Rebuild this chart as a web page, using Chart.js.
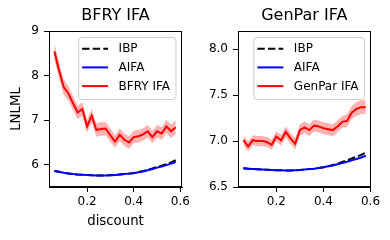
<!DOCTYPE html>
<html><head><meta charset="utf-8">
<script src="https://cdn.jsdelivr.net/npm/chart.js@4"></script>
<style>
html,body{margin:0;padding:0;background:#fff;width:390px;height:240px;overflow:hidden}
canvas{position:absolute;top:0}
#c1{left:0} #c2{left:195px}
</style></head>
<body>
<canvas id="c1" width="195" height="240"></canvas>
<canvas id="c2" width="195" height="240"></canvas>
<script>
const discount = [0.06,0.08,0.10,0.12,0.14,0.16,0.18,0.20,0.22,0.24,0.26,0.28,0.30,0.32,0.34,0.36,0.38,0.40,0.42,0.44,0.46,0.48,0.50,0.52,0.54,0.56,0.58];

const bfryMean = [8.54,8.12,7.74,7.60,7.38,7.17,7.25,6.86,7.10,6.78,6.80,6.81,6.66,6.52,6.67,6.56,6.50,6.62,6.64,6.68,6.75,6.62,6.75,6.70,6.86,6.75,6.84];
const bfryStd  = [0.19,0.18,0.17,0.16,0.16,0.15,0.15,0.15,0.15,0.15,0.15,0.15,0.15,0.14,0.14,0.14,0.14,0.14,0.14,0.14,0.14,0.14,0.14,0.14,0.15,0.15,0.15];
const aifaLeft = [5.86,5.84,5.82,5.805,5.79,5.78,5.775,5.77,5.765,5.76,5.76,5.76,5.765,5.77,5.78,5.79,5.80,5.81,5.83,5.85,5.875,5.905,5.935,5.96,5.99,6.025,6.06];
const ibpLeft  = [5.86,5.84,5.82,5.805,5.79,5.78,5.775,5.77,5.765,5.76,5.76,5.76,5.765,5.77,5.78,5.79,5.80,5.815,5.835,5.86,5.885,5.915,5.95,5.98,6.01,6.05,6.10];

const genparMean = [7.01,6.94,7.01,7.00,7.00,6.99,6.96,7.05,7.01,7.10,7.03,6.97,7.12,7.15,7.12,7.17,7.16,7.14,7.13,7.12,7.16,7.21,7.22,7.31,7.35,7.37,7.37];
const genparStd  = [0.055,0.055,0.055,0.055,0.055,0.055,0.055,0.055,0.06,0.06,0.06,0.06,0.065,0.065,0.065,0.065,0.065,0.065,0.065,0.065,0.065,0.065,0.07,0.07,0.075,0.075,0.075];
const aifaRight  = [6.705,6.70,6.697,6.693,6.69,6.687,6.685,6.683,6.682,6.681,6.681,6.683,6.686,6.69,6.695,6.70,6.707,6.715,6.725,6.735,6.748,6.762,6.775,6.79,6.805,6.822,6.84];
const ibpRight   = [6.705,6.70,6.697,6.693,6.69,6.687,6.685,6.683,6.682,6.681,6.681,6.683,6.686,6.69,6.695,6.70,6.707,6.716,6.727,6.74,6.755,6.772,6.79,6.81,6.83,6.85,6.875];

const yTicksLeft  = [6,7,8,9];
const yTicksRight = [6.5,7.0,7.5,8.0];
const xTicks      = [0.2,0.4,0.6];

const FONT = "'DejaVu Sans', sans-serif";

function pts(ys){ return discount.map((x,i)=>({x:x, y:ys[i]})); }
function bandPts(m,s,sign){ return discount.map((x,i)=>({x:x, y:m[i]+sign*s[i]})); }

const framePlugin = {
  id:'frame',
  afterDraw(chart){
    const {ctx, chartArea:a} = chart;
    ctx.save();
    ctx.strokeStyle='#000'; ctx.lineWidth=1;
    ctx.strokeRect(Math.round(a.left)+0.5, Math.round(a.top)+0.5, Math.round(a.right)-Math.round(a.left)-1, Math.round(a.bottom)-Math.round(a.top)-1);
    ctx.restore();
  }
};

const legendPlugin = {
  id:'boxLegend',
  afterDraw(chart, args, opts){
    const {ctx, chartArea:a} = chart;
    const items = opts.items;
    ctx.save();
    ctx.font = '12px ' + FONT;
    let maxW = 0;
    items.forEach(it=>{ maxW = Math.max(maxW, ctx.measureText(it.label).width); });
    const w = 4 + 26 + 10.5 + maxW + 5.5;
    const h = 62;
    const right = a.right - 6.5, top = a.top + 6;
    const left = right - w;
    ctx.beginPath();
    ctx.roundRect(left+0.5, top+0.5, w, h, 3);
    ctx.fillStyle='rgba(255,255,255,0.8)'; ctx.fill();
    ctx.strokeStyle='#cccccc'; ctx.lineWidth=1; ctx.stroke();
    items.forEach((it,i)=>{
      const y = top + 11.7 + i*18.7;
      ctx.beginPath();
      ctx.setLineDash(it.dash || []);
      ctx.strokeStyle = it.color; ctx.lineWidth = 2;
      ctx.moveTo(left+4, y); ctx.lineTo(left+30, y); ctx.stroke();
      ctx.setLineDash([]);
      ctx.fillStyle='#000'; ctx.textBaseline='middle'; ctx.textAlign='left';
      ctx.fillText(it.label, left+40.5, y+0.5);
    });
    ctx.restore();
  }
};

function makeChart(id, o){
  const datasets = [
    {label:o.redLabel, data:pts(o.mean), borderColor:'#ff0000', borderWidth:2, pointRadius:0, fill:false, order:0},
    {label:'upper', data:bandPts(o.mean,o.std,1), borderWidth:0, borderColor:'rgba(0,0,0,0)', backgroundColor:'rgba(255,0,0,0.3)', pointRadius:0, fill:'+1', order:1},
    {label:'lower', data:bandPts(o.mean,o.std,-1), borderWidth:0, borderColor:'rgba(0,0,0,0)', pointRadius:0, fill:false, order:2},
    {label:'AIFA', data:pts(o.aifa), borderColor:'#0000ff', borderWidth:2, pointRadius:0, fill:false, order:3},
    {label:'IBP', data:pts(o.ibp), borderColor:'#000000', borderWidth:2, borderDash:[7.4,3.2], pointRadius:0, fill:false, order:4}
  ];
  return new Chart(document.getElementById(id), {
    type:'line',
    data:{datasets},
    plugins:[framePlugin, legendPlugin],
    options:{
      responsive:false, animation:false, devicePixelRatio:1,
      layout:{padding:{left:0,right:o.padRight,top:0,bottom:0}},
      plugins:{
        legend:{display:false}, tooltip:{enabled:false},
        title:{display:true, text:o.title, color:'#000', fullSize:false,
               font:{family:FONT, size:16, weight:'normal'}, padding:{top:6.5,bottom:5.3}},
        boxLegend:{items:[{label:'IBP',color:'#000',dash:[7.4,3.2]},{label:'AIFA',color:'#0000ff'},{label:o.redLabel,color:'#ff0000'}]}
      },
      scales:{
        x:{type:'linear', min:o.xmin, max:o.xmax,
           afterFit(s){ s.height = 53; },
           afterBuildTicks(s){ s.ticks = xTicks.map(v=>({value:v})); },
           ticks:{color:'#000', font:{family:FONT,size:12}, padding:3, maxRotation:0, autoSkip:false,
                  callback:(v)=>Number(v).toFixed(1)},
           grid:{display:true, drawOnChartArea:false, drawTicks:true, tickLength:5, color:'#000', lineWidth:1},
           border:{display:true, color:'#000', width:1},
           title:{display:o.xTitle!=='' , text:o.xTitle, color:'#000', font:{family:FONT,size:13.3}, padding:{top:0,bottom:10}}
        },
        y:{type:'linear', min:o.ymin, max:o.ymax,
           afterFit(s){ s.width = o.yWidth; },
           afterBuildTicks(s){ s.ticks = o.yTicks.map(v=>({value:v})); },
           ticks:{color:'#000', font:{family:FONT,size:12}, padding:5, autoSkip:false,
                  callback:(v)=>Number(v).toFixed(o.yDec)},
           grid:{display:true, drawOnChartArea:false, drawTicks:true, tickLength:5, color:'#000', lineWidth:1},
           border:{display:true, color:'#000', width:1},
           title:{display:o.yTitle!=='', text:o.yTitle, color:'#000', font:{family:FONT,size:13.3}, padding:{top:9,bottom:0}}
        }
      }
    }
  });
}

makeChart('c1', {title:'BFRY IFA', redLabel:'BFRY IFA', mean:bfryMean, std:bfryStd, aifa:aifaLeft, ibp:ibpLeft,
  xmin:0.037, xmax:0.607, ymin:5.5, ymax:9, yTicks:yTicksLeft, yDec:0, yWidth:49, padRight:13,
  xTitle:'discount', yTitle:'LNLML'});
makeChart('c2', {title:'GenPar IFA', redLabel:'GenPar IFA', mean:genparMean, std:genparStd, aifa:aifaRight, ibp:ibpRight,
  xmin:0.037, xmax:0.600, ymin:6.5, ymax:8.2, yTicks:yTicksRight, yDec:1, yWidth:43, padRight:19.5,
  xTitle:'', yTitle:''});
</script>
</body></html>
